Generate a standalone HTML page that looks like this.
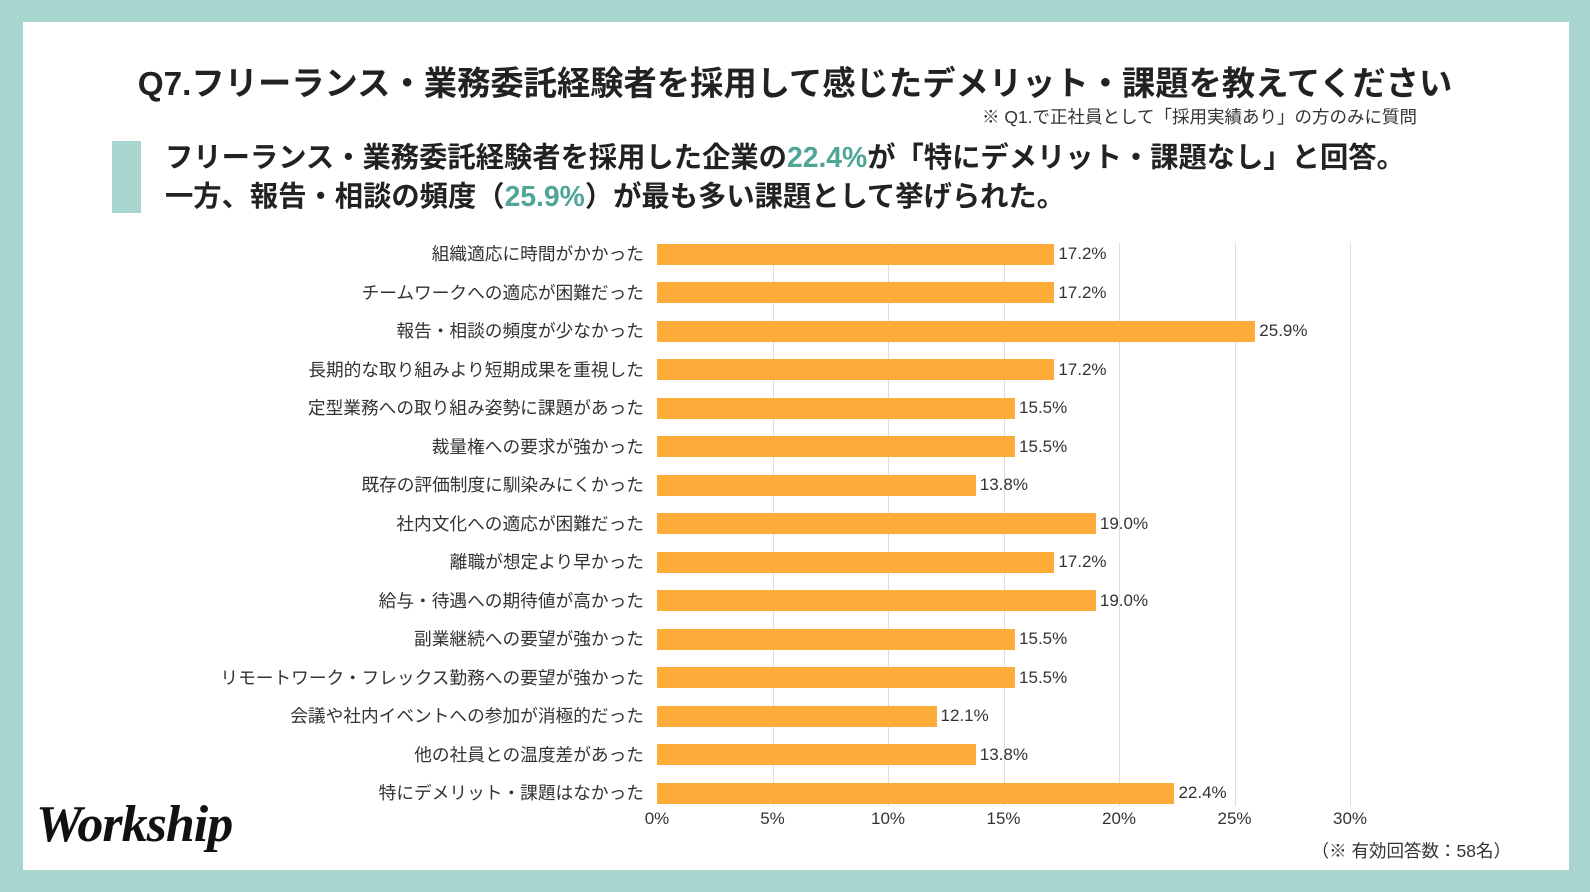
<!DOCTYPE html>
<html><head><meta charset="utf-8"><style>
body{margin:0;width:1590px;height:892px;background:#a9d5cf;position:relative;overflow:hidden;font-family:"Liberation Sans","Noto Sans CJK JP",sans-serif;color:#222}
.panel{position:absolute;left:23px;top:22px;width:1546px;height:848px;background:#fff}
.abs{position:absolute;white-space:nowrap}
.t{left:0;width:1590px;text-align:center;top:56px;font-size:33.3px;font-weight:bold;color:#222}
.note{right:173px;top:104px;font-size:17.5px;color:#333}
.sub{left:165px;font-size:28.3px;font-weight:bold;color:#222}
.hl{color:#4fa596}
.lab{right:946px;font-size:17.7px;color:#333;transform:translateY(-50%)}
.bar{position:absolute;left:657px;height:21px;background:#fdac3a}
.val{font-size:17px;color:#333;transform:translateY(-50%)}
.grid{position:absolute;top:243px;height:563px;width:1px;background:#ddd}
.ax{font-size:17px;color:#333;top:809px;transform:translateX(-50%)}
</style></head><body>
<div class="panel"></div>
<div class="abs t">Q7.フリーランス・業務委託経験者を採用して感じたデメリット・課題を教えてください</div>
<div class="abs note">※ Q1.で正社員として「採用実績あり」の方のみに質問</div>
<div class="abs" style="left:112px;top:141px;width:29px;height:72px;background:#a9d5cf"></div>
<div class="abs sub" style="top:135px">フリーランス・業務委託経験者を採用した企業の<span class="hl">22.4%</span>が「特にデメリット・課題なし」と回答。</div>
<div class="abs sub" style="top:174px">一方、報告・相談の頻度（<span class="hl">25.9%</span>）が最も多い課題として挙げられた。</div>
<div id="chart"></div>
<div class="abs" style="left:36px;top:795px;font-family:'Liberation Serif',serif;font-style:italic;font-weight:bold;font-size:52px;color:#111;letter-spacing:-1px">Workship</div>
<div class="abs" style="right:79px;top:838px;font-size:17.5px;color:#333">（※ 有効回答数：58名）</div>
<script>
const d=[["組織適応に時間がかかった",17.2],["チームワークへの適応が困難だった",17.2],["報告・相談の頻度が少なかった",25.9],["長期的な取り組みより短期成果を重視した",17.2],["定型業務への取り組み姿勢に課題があった",15.5],["裁量権への要求が強かった",15.5],["既存の評価制度に馴染みにくかった",13.8],["社内文化への適応が困難だった",19.0],["離職が想定より早かった",17.2],["給与・待遇への期待値が高かった",19.0],["副業継続への要望が強かった",15.5],["リモートワーク・フレックス勤務への要望が強かった",15.5],["会議や社内イベントへの参加が消極的だった",12.1],["他の社員との温度差があった",13.8],["特にデメリット・課題はなかった",22.4]];
let h="";const x0=657,u=23.1;
for(let i=1;i<=6;i++)h+=`<div class="grid" style="left:${x0+i*5*u}px"></div>`;
for(let i=0;i<=6;i++)h+=`<div class="abs ax" style="left:${x0+i*5*u}px">${i*5}%</div>`;
d.forEach((r,i)=>{const y=253+i*38.5;const w=r[1]*u;
h+=`<div class="abs lab" style="top:${y}px">${r[0]}</div><div class="bar" style="top:${y-9.5}px;width:${w}px"></div><div class="abs val" style="left:${x0+w+4}px;top:${y+1}px">${r[1].toFixed(1)}%</div>`});
document.getElementById("chart").innerHTML=h;
</script>
</body></html>
